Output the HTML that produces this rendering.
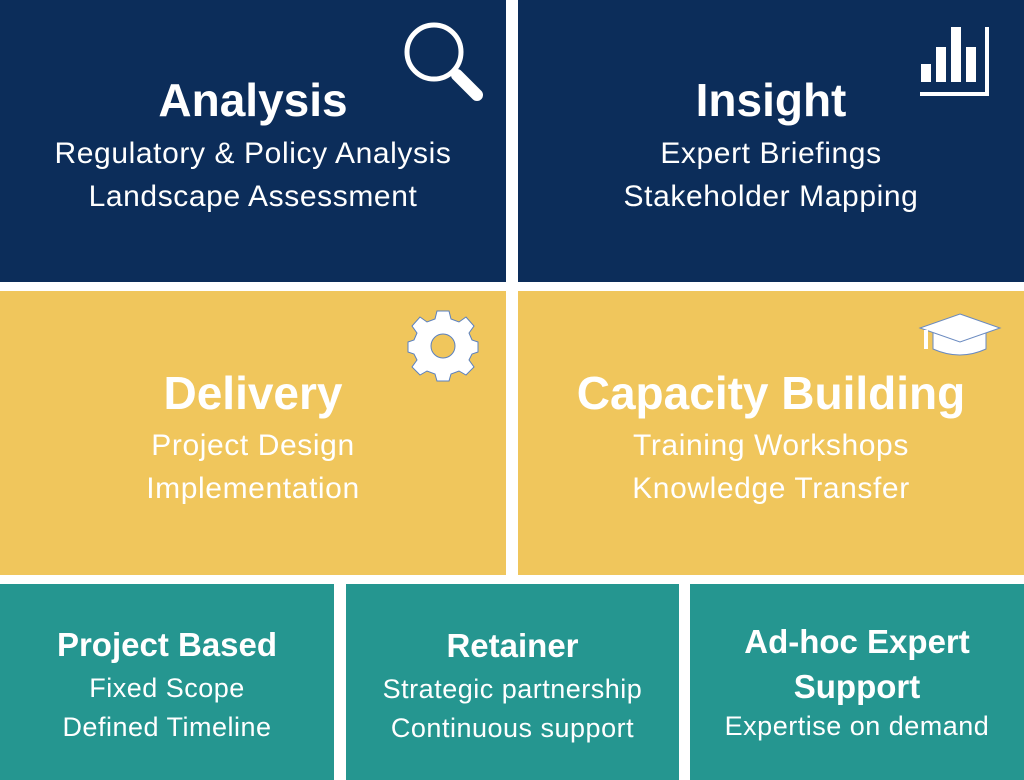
<!DOCTYPE html>
<html><head><style>
body{margin:0;width:1024px;height:780px;background:#fff;position:relative;overflow:hidden;font-family:"Liberation Sans",Arial,sans-serif;color:#fff}
.b{position:absolute}
.t{position:absolute;left:0;right:0;text-align:center;white-space:nowrap;line-height:1}
.n{background:#0c2d5a}.y{background:#f0c65c}.g{background:#259690}
.h{font-weight:bold;font-size:46px}
.s{font-size:30px;letter-spacing:0.6px}
.hb{font-weight:bold;font-size:33px}
.sb{font-size:27px;letter-spacing:0.5px}
</style></head><body>
<div class="b n" style="left:0;top:0;width:506px;height:282px">
 <div class="t h" style="top:77px">Analysis</div>
 <div class="t s" style="top:139px">Regulatory &amp; Policy Analysis</div>
 <div class="t s" style="top:182px">Landscape Assessment</div>
 <svg style="position:absolute;left:400px;top:18px" width="90" height="90"><circle cx="34" cy="34" r="27" fill="none" stroke="#fff" stroke-width="5"/><line x1="57" y1="57" x2="77" y2="77" stroke="#fff" stroke-width="12" stroke-linecap="round"/></svg>
</div>
<div class="b n" style="left:518px;top:0;width:506px;height:282px">
 <div class="t h" style="top:77px">Insight</div>
 <div class="t s" style="top:139px">Expert Briefings</div>
 <div class="t s" style="top:182px">Stakeholder Mapping</div>
 <svg style="position:absolute;left:400px;top:24px" width="80" height="75"><rect x="3" y="40" width="10" height="18" fill="#fff"/><rect x="18" y="23" width="10" height="35" fill="#fff"/><rect x="33" y="3" width="10" height="55" fill="#fff"/><rect x="48" y="23" width="10" height="35" fill="#fff"/><polyline points="2,70 69,70 69,3" fill="none" stroke="#fff" stroke-width="4"/></svg>
</div>
<div class="b y" style="left:0;top:291px;width:506px;height:284px">
 <div class="t h" style="top:79px">Delivery</div>
 <div class="t s" style="top:140px">Project Design</div>
 <div class="t s" style="top:183px">Implementation</div>
 <svg style="position:absolute;left:406px;top:18px" width="74" height="74" viewBox="-37 -37 74 74"><g fill="#fff" stroke="#5a80c0" stroke-width="1"><path d="M-6,-35 L6,-35 L8,-27 L16,-24 L23,-29 L31,-20 L26,-13 L29,-6 L35,-4 L35,6 L29,8 L26,14 L31,21 L23,29 L16,25 L8,28 L6,35 L-6,35 L-8,28 L-16,25 L-23,29 L-31,21 L-26,14 L-29,8 L-35,6 L-35,-4 L-29,-6 L-26,-13 L-31,-20 L-23,-29 L-16,-24 L-8,-27 Z"/></g><circle r="12" fill="#f0c65c" stroke="#5a80c0"/></svg>
</div>
<div class="b y" style="left:518px;top:291px;width:506px;height:284px">
 <div class="t h" style="top:79px">Capacity Building</div>
 <div class="t s" style="top:140px">Training Workshops</div>
 <div class="t s" style="top:183px">Knowledge Transfer</div>
 <svg style="position:absolute;left:400px;top:20px" width="86" height="50"><path d="M15,20 L15,38 Q42,50 68,38 L68,20 Z" fill="#fff" stroke="#6a8ac0"/><polygon points="42,3 82,17 42,31 2,17" fill="#fff" stroke="#6a8ac0"/><line x1="8" y1="19" x2="8" y2="38" stroke="#fff" stroke-width="4"/></svg>
</div>
<div class="b g" style="left:0;top:584px;width:334px;height:196px">
 <div class="t hb" style="top:44px">Project Based</div>
 <div class="t sb" style="top:91px">Fixed Scope</div>
 <div class="t sb" style="top:130px">Defined Timeline</div>
</div>
<div class="b g" style="left:346px;top:584px;width:333px;height:196px">
 <div class="t hb" style="top:45px">Retainer</div>
 <div class="t sb" style="top:92px">Strategic partnership</div>
 <div class="t sb" style="top:131px">Continuous support</div>
</div>
<div class="b g" style="left:690px;top:584px;width:334px;height:196px">
 <div class="t hb" style="top:41px">Ad-hoc Expert</div>
 <div class="t hb" style="top:86px">Support</div>
 <div class="t sb" style="top:129px">Expertise on demand</div>
</div>
</body></html>
